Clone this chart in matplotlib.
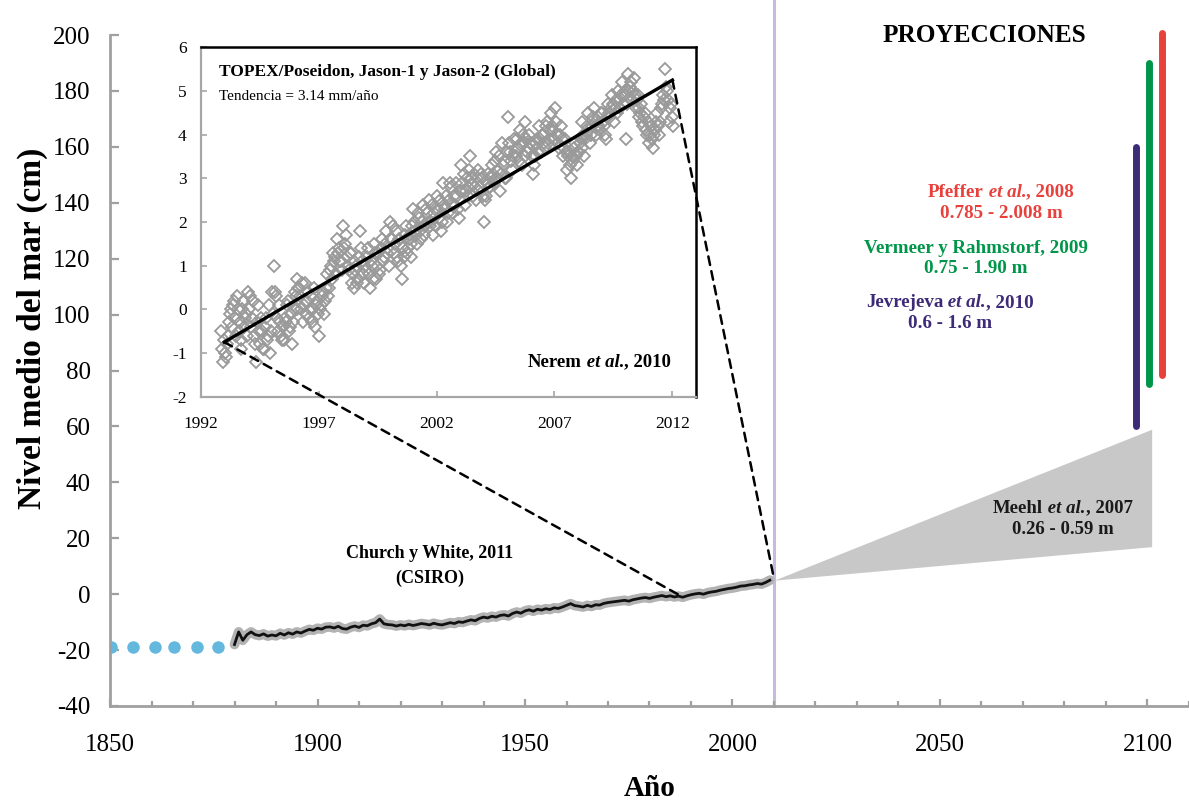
import numpy as np
import matplotlib
matplotlib.use("Agg")
import matplotlib.pyplot as plt
from matplotlib.patches import ConnectionPatch
from matplotlib import transforms

plt.rcParams['font.family'] = ['Liberation Serif', 'DejaVu Serif']
plt.rcParams['axes.unicode_minus'] = False

# ---------------- data ----------------
# Church & White (2011) annual GMSL (cm), 1880-2009
church_years = list(range(1880, 2010))
church_vals = [
    -18.0, -13.5, -16.5, -14.5, -13.5, -14.5, -14.8, -14.2, -15.0, -14.6,
    -14.9, -14.0, -14.6, -13.8, -14.3, -13.5, -13.9, -13.2, -12.6, -12.9,
    -12.2, -12.5, -11.8, -11.7, -12.1, -11.5, -12.3, -12.5, -11.8, -11.4,
    -11.9, -11.1, -11.3, -10.6, -10.2, -8.9, -10.6, -10.9, -11.0, -11.4,
    -11.0, -11.3, -10.8, -11.2, -10.9, -10.5, -10.7, -11.0, -10.4, -10.8,
    -11.0, -10.6, -10.2, -10.5, -9.9, -10.1, -9.6, -9.2, -9.5, -8.7,
    -8.2, -8.5, -7.9, -8.2, -7.6, -7.4, -7.8, -6.9, -6.4, -6.8,
    -6.0, -5.6, -6.1, -5.4, -5.7, -5.2, -5.5, -4.9, -5.1, -4.6,
    -4.0, -3.4, -4.1, -4.3, -4.6, -4.0, -4.4, -3.8, -3.9, -3.3,
    -3.0, -2.8, -2.6, -2.4, -2.2, -2.5, -2.0, -1.7, -1.4, -1.2,
    -1.5, -1.1, -0.8, -0.5, -0.9, -0.6, -1.0, -0.7, -1.1, -0.6,
    -0.2, 0.1, 0.3, 0.0, 0.5, 0.8, 1.0, 1.4, 1.7, 2.0,
    2.2, 2.5, 2.9, 3.0, 3.3, 3.5, 3.8, 3.6, 4.2, 5.0,
]

# early (pre-1880) blue dots
dot_years = [1850.2, 1855.5, 1860.8, 1865.4, 1870.9, 1876.0]
dot_vals = [-19, -19, -19, -19, -19, -19]

# Meehl et al. 2007 wedge
meehl_years = [2010, 2101]
meehl_low = [5.0, 17.0]
meehl_high = [5.0, 59.0]

# projections (vertical bars): Jevrejeva, Vermeer, Pfeffer
proj_years = [2097.3, 2100.4, 2103.6]
proj_low = [60, 75, 78.5]
proj_high = [160, 190, 200.8]
proj_colors = ['#3d2b78', '#00964a', '#e8413c']

obs_end_year = 2010

# Satellite altimetry (inset), semi-monthly values (cm) from Nov-1992
# (a: first half of month, b: second half of month)
alt_1992a = [-0.5, -1.2]
alt_1992b = [-0.9, -0.7]
alt_1993a = [-1.0, -0.8, -0.3, 0.0, 0.1, -0.2, 0.3, -0.5, -0.7, 0.0, -0.4, -0.1]
alt_1993b = [-1.1, -0.6, -0.1, -0.4, 0.2, -0.6, 0.0, -0.3, -0.9, 0.2, -0.2, -0.6]
alt_1994a = [0.4, 0.3, -0.2, -0.6, -1.2, 0.1, -0.8, -0.5, -0.9, -0.2, -0.6, -1.0]
alt_1994b = [0.0, -0.4, 0.2, -0.8, -0.3, -0.5, -0.2, -0.9, -0.4, -0.7, 0.1, -0.5]
alt_1995a = [0.4, 1.0, 0.3, -0.5, -0.3, -0.7, -0.7, -0.3, 0.2, -0.4, -0.8, 0.0]
alt_1995b = [-0.1, 0.4, -0.2, 0.1, -0.6, -0.4, -0.2, 0.1, -0.5, -0.1, -0.3, 0.4]
alt_1996a = [0.3, 0.7, 0.5, 0.0, -0.3, 0.6, 0.2, -0.2, 0.3, 0.0, -0.4, 0.2]
alt_1996b = [0.0, 0.5, 0.3, 0.6, 0.1, -0.1, 0.4, 0.0, -0.3, 0.5, 0.1, -0.1]
alt_1997a = [-0.6, 0.1, 0.4, 0.2, 0.8, 0.5, 1.0, 1.3, 1.2, 1.6, 1.4, 1.1]
alt_1997b = [0.0, 0.3, -0.1, 0.5, 0.3, 0.9, 0.7, 1.1, 0.8, 1.3, 1.1, 0.9]
alt_1998a = [1.9, 1.5, 1.2, 0.9, 1.3, 0.8, 0.5, 1.0, 0.7, 1.8, 1.1, 0.6]
alt_1998b = [1.4, 1.7, 1.0, 1.3, 0.6, 1.1, 0.9, 0.6, 1.2, 1.4, 0.8, 1.0]
alt_1999a = [0.9, 1.4, 0.5, 1.0, 1.5, 0.7, 1.3, 0.9, 1.6, 1.2, 1.8, 1.4]
alt_1999b = [1.2, 0.8, 1.1, 0.7, 1.3, 1.0, 0.8, 1.4, 1.1, 1.5, 1.3, 1.0]
alt_2000a = [2.0, 1.6, 1.3, 1.8, 1.1, 1.5, 0.7, 1.2, 1.9, 1.4, 1.7, 1.2]
alt_2000b = [1.6, 1.9, 1.5, 1.2, 1.6, 1.0, 1.4, 1.7, 1.3, 1.6, 1.5, 1.9]
alt_2001a = [2.3, 1.8, 1.5, 2.1, 1.6, 2.4, 1.9, 2.2, 2.5, 2.0, 1.7, 2.3]
alt_2001b = [2.0, 1.7, 2.2, 1.8, 2.0, 1.7, 2.3, 2.0, 1.9, 2.4, 2.2, 1.9]
alt_2002a = [2.6, 2.1, 1.8, 2.9, 2.3, 2.0, 2.5, 2.8, 2.2, 2.4, 2.6, 2.1]
alt_2002b = [2.3, 2.5, 2.0, 2.4, 2.6, 2.2, 2.9, 2.4, 2.6, 2.9, 2.3, 2.7]
alt_2003a = [3.3, 2.7, 2.4, 3.0, 2.6, 3.5, 2.9, 3.1, 2.5, 3.2, 2.8, 3.0]
alt_2003b = [2.9, 3.1, 2.7, 2.8, 3.2, 3.0, 2.6, 2.8, 3.0, 2.7, 3.1, 2.6]
alt_2004a = [2.0, 2.6, 3.1, 2.8, 3.3, 2.9, 3.6, 3.2, 2.7, 3.8, 3.4, 3.0]
alt_2004b = [2.5, 2.9, 2.8, 3.0, 3.1, 3.4, 3.0, 3.5, 3.1, 3.3, 3.0, 3.6]
alt_2005a = [4.4, 3.6, 3.2, 3.9, 3.5, 3.7, 4.1, 3.3, 3.8, 4.3, 3.6, 4.0]
alt_2005b = [3.8, 3.4, 3.5, 3.6, 3.9, 3.4, 3.8, 4.0, 3.5, 3.9, 3.7, 3.8]
alt_2006a = [3.8, 3.1, 3.5, 3.9, 4.2, 3.6, 4.0, 3.7, 4.3, 3.9, 4.5, 4.1]
alt_2006b = [3.5, 3.3, 3.8, 3.6, 3.9, 4.0, 3.8, 4.2, 3.8, 4.1, 4.2, 3.9]
alt_2007a = [4.6, 4.0, 3.7, 4.2, 3.5, 3.9, 3.2, 3.6, 3.0, 3.4, 3.8, 3.3]
alt_2007b = [4.3, 3.8, 4.0, 3.9, 3.7, 3.6, 3.5, 3.3, 3.5, 3.7, 3.5, 3.6]
alt_2008a = [3.6, 3.9, 4.3, 3.5, 4.0, 4.5, 3.8, 4.2, 4.6, 4.0, 4.4, 4.1]
alt_2008b = [3.8, 3.7, 4.0, 3.9, 4.2, 4.1, 4.0, 4.4, 4.3, 4.2, 4.2, 4.5]
alt_2009a = [4.5, 4.2, 3.9, 4.7, 4.4, 4.9, 4.3, 4.8, 5.0, 4.6, 5.2, 4.9]
alt_2009b = [4.3, 4.0, 4.4, 4.5, 4.6, 4.7, 4.6, 4.5, 4.8, 4.9, 4.7, 5.0]
alt_2010a = [3.9, 5.4, 5.1, 4.8, 5.3, 4.6, 4.9, 4.4, 4.7, 4.2, 4.5, 4.0]
alt_2010b = [4.7, 5.0, 5.2, 5.0, 4.9, 4.8, 4.6, 4.5, 4.3, 4.4, 4.1, 4.3]
alt_2011a = [3.8, 4.2, 3.7, 4.1, 4.5, 4.0, 4.6, 4.9, 5.5, 5.0, 4.3, 4.7]
alt_2011b = [4.0, 3.9, 4.0, 4.3, 4.2, 4.3, 4.7, 4.8, 5.1, 4.8, 4.6, 4.4]
alt_2012a = [4.2]

trend_years = [1993, 2012]
trend_vals = [-0.75, 5.25]

# labels / ticks
xticks_main = [1850, 1900, 1950, 2000, 2050, 2100]
yticks_main = list(range(-40, 201, 20))
xticks_inset = [1992, 1997, 2002, 2007, 2012]
yticks_inset = list(range(-2, 7))

# assemble altimetry time axis
alt_blocks = [
    (1992, 10, alt_1992a, alt_1992b), (1993, 0, alt_1993a, alt_1993b),
    (1994, 0, alt_1994a, alt_1994b), (1995, 0, alt_1995a, alt_1995b),
    (1996, 0, alt_1996a, alt_1996b), (1997, 0, alt_1997a, alt_1997b),
    (1998, 0, alt_1998a, alt_1998b), (1999, 0, alt_1999a, alt_1999b),
    (2000, 0, alt_2000a, alt_2000b), (2001, 0, alt_2001a, alt_2001b),
    (2002, 0, alt_2002a, alt_2002b), (2003, 0, alt_2003a, alt_2003b),
    (2004, 0, alt_2004a, alt_2004b), (2005, 0, alt_2005a, alt_2005b),
    (2006, 0, alt_2006a, alt_2006b), (2007, 0, alt_2007a, alt_2007b),
    (2008, 0, alt_2008a, alt_2008b), (2009, 0, alt_2009a, alt_2009b),
    (2010, 0, alt_2010a, alt_2010b), (2011, 0, alt_2011a, alt_2011b),
    (2012, 0, alt_2012a, []),
]
alt_t, alt_v = [], []
for yr, m0, va, vb in alt_blocks:
    for i, v in enumerate(va):
        alt_t.append(yr + (m0 + i + 0.25) / 12.0)
        alt_v.append(v)
    for i, v in enumerate(vb):
        alt_t.append(yr + (m0 + i + 0.75) / 12.0)
        alt_v.append(v)

# ---------------- figure ----------------
W, H = 1189, 802
fig = plt.figure(figsize=(W / 100, H / 100), dpi=100)
renderer = fig.canvas.get_renderer()


def rich_text(axes, x, y, parts, size, color, ha='center', transform=None,
              zorder=5):
    """Draw text composed of several styled parts on one baseline."""
    base = transform if transform is not None else axes.transData
    texts = []
    for s, style in parts:
        t = axes.text(x, y, s, fontsize=size, fontweight='bold',
                      fontstyle=style, color=color, ha='left',
                      va='center', transform=base, zorder=zorder)
        texts.append(t)
    widths = [t.get_window_extent(renderer).width for t in texts]
    total = sum(widths)
    start = {'center': -total / 2, 'left': 0, 'right': -total}[ha]
    off = start
    for t, w in zip(texts, widths):
        t.set_transform(transforms.offset_copy(base, fig=fig, x=off, y=0,
                                               units='dots'))
        off += w
    return texts


ax = fig.add_axes([110 / W, 96 / H, 1079 / W, 671 / H])
ax.set_xlim(1850, 2110)
ax.set_ylim(-40, 200)

spine_col = '#a0a0a0'
for s in ['top', 'right']:
    ax.spines[s].set_visible(False)
for s in ['left', 'bottom']:
    ax.spines[s].set_color(spine_col)
    ax.spines[s].set_linewidth(2.0)
    ax.spines[s].set_zorder(6)

ax.set_xticks(xticks_main)
ax.set_xticks(np.arange(1850, 2111, 10), minor=True)
ax.set_yticks(yticks_main)
ax.tick_params(axis='x', which='major', direction='in', length=5, width=1.6,
               color=spine_col, labelsize=18, pad=20)
ax.tick_params(axis='x', which='minor', direction='in', length=3.5, width=1.6,
               color=spine_col)
ax.tick_params(axis='y', which='major', direction='in', length=6.5, width=1.6,
               color=spine_col, labelsize=18, pad=14)

ax.set_xlabel('Año', fontsize=21, fontweight='bold', labelpad=14)
ax.set_ylabel('Nivel medio del mar (cm)', fontsize=24, fontweight='bold')
ax.yaxis.set_label_coords(-0.0575, 0.563)

# observation end line
ax.axvline(obs_end_year, ymin=0, ymax=1.05, color='#c8badf', lw=2.2,
           clip_on=False, zorder=1)

# Meehl wedge
ax.fill_between(meehl_years, meehl_low, meehl_high, color='#c8c8c8', lw=0,
                zorder=2)

# projection bars
for xp, lo, hi, c in zip(proj_years, proj_low, proj_high, proj_colors):
    ax.plot([xp, xp], [lo, hi], color=c, lw=5, solid_capstyle='round',
            clip_on=False, zorder=3)

# early dots
ax.plot(dot_years, dot_vals, 'o', color='#64b8dd', ms=9, mec='none',
        clip_on=True, zorder=3)

# Church & White
ax.plot(church_years, church_vals, color='#b3b3b3', lw=7,
        solid_joinstyle='round', solid_capstyle='round', zorder=3)
ax.plot(church_years, church_vals, color='#111111', lw=2.0, zorder=4)

# texts main
ax.text(2060.6, 199.8, 'PROYECCIONES', fontsize=18.2, fontweight='bold',
        ha='center', va='center')
rich_text(ax, 2064.7, 143.8, [('Pfeffer', 'normal'), (' et al.', 'italic'),
                               (', 2008', 'normal')], 13.7, proj_colors[2])
ax.text(2064.7, 136.3, '0.785 - 2.008 m', fontsize=13.7, fontweight='bold',
        color=proj_colors[2], ha='center', va='center')
ax.text(2058.7, 123.7, 'Vermeer y Rahmstorf, 2009', fontsize=13.7,
        fontweight='bold', color=proj_colors[1], ha='center', va='center')
ax.text(2058.7, 116.6, '0.75 - 1.90 m', fontsize=13.7, fontweight='bold',
        color=proj_colors[1], ha='center', va='center')
rich_text(ax, 2052.4, 104.4, [('Jevrejeva', 'normal'), (' et al.', 'italic'),
                               (', 2010', 'normal')], 13.7, proj_colors[0])
ax.text(2052.4, 96.9, '0.6 - 1.6 m', fontsize=13.7, fontweight='bold',
        color=proj_colors[0], ha='center', va='center')
rich_text(ax, 2079.6, 30.8, [('Meehl', 'normal'), (' et al.', 'italic'),
                              (', 2007', 'normal')], 13.5, '#1a1a1a')
ax.text(2079.6, 23.2, '0.26 - 0.59 m', fontsize=13.5, fontweight='bold',
        color='#1a1a1a', ha='center', va='center', zorder=5)
ax.text(1927.1, 14.7, 'Church y White, 2011', fontsize=13, fontweight='bold',
        ha='center', va='center')
ax.text(1927.1, 5.7, '(CSIRO)', fontsize=13, fontweight='bold',
        ha='center', va='center')

# ---------------- inset ----------------
ins = fig.add_axes([200.7 / W, (H - 396.7) / H, (696 - 200.7) / W,
                    (396.7 - 47.3) / H])
ins.set_xlim(1992, 2013)
ins.set_ylim(-2, 6)
ins.set_facecolor('white')
for s in ['left', 'bottom']:
    ins.spines[s].set_color('#a6a6a6')
    ins.spines[s].set_linewidth(1.6)
for s in ['top', 'right']:
    ins.spines[s].set_color('black')
    ins.spines[s].set_linewidth(1.8)
ins.set_xticks(xticks_inset)
ins.set_yticks(yticks_inset)
ins.tick_params(axis='both', direction='in', length=4, width=1.2,
                color='#a6a6a6', labelsize=12.5)
ins.tick_params(axis='x', pad=14)
ins.tick_params(axis='y', pad=10)

ins.plot(alt_t, alt_v, 'D', ms=6, mfc='none', mec='#9a9a9a', mew=1.3,
         zorder=2)
ins.plot(trend_years, trend_vals, color='black', lw=2.4, zorder=3)

ins.text(0.037, 0.929, 'TOPEX/Poseidon, Jason-1 y Jason-2 (Global)',
         transform=ins.transAxes, fontsize=12.5, fontweight='bold',
         ha='left', va='center')
ins.text(0.037, 0.858, 'Tendencia = 3.14 mm/año', transform=ins.transAxes,
         fontsize=11, ha='left', va='center')
rich_text(ins, 0.95, 0.099, [('Nerem', 'normal'), (' et al.', 'italic'),
                             (', 2010', 'normal')], 13.5, 'black', ha='right',
          transform=ins.transAxes)

# connector lines
for (xi, yi), (xm, ym) in [((trend_years[0], trend_vals[0]), (1988, -1.0)),
                           ((trend_years[1], trend_vals[1]), (obs_end_year, 5.5))]:
    cp = ConnectionPatch(xyA=(xi, yi), coordsA=ins.transData,
                         xyB=(xm, ym), coordsB=ax.transData,
                         color='black', lw=1.8, linestyle=(0, (3.5, 2.5)),
                         zorder=10)
    fig.add_artist(cp)

fig.savefig('out.png', dpi=100)
